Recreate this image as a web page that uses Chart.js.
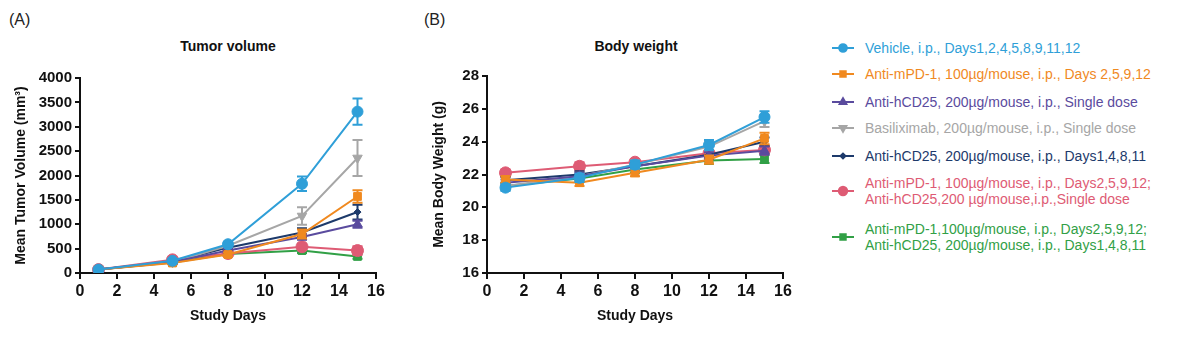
<!DOCTYPE html>
<html>
<head>
<meta charset="utf-8">
<script src="https://cdn.jsdelivr.net/npm/chart.js@4"></script>
<style>
    body { margin: 0; background: #fff; font-family: "Liberation Sans", Arial, sans-serif; }
    #wrap { position: relative; width: 1190px; height: 339px; overflow: hidden; }
    .panel { position: absolute; top: 0; width: 395px; height: 339px; }
    .tag { position: absolute; font-size: 16px; color: #222; }
    .ttl { position: absolute; font-size: 14px; font-weight: bold; color: #111; transform: translateX(-50%); white-space: nowrap; }
    .leg { position: absolute; left: 830px; font-size: 14px; line-height: 16px; white-space: nowrap; }
    .leg canvas { position: absolute; left: 0; }
    .leg span { position: absolute; left: 35px; }
</style>
</head>
<body>
<div id="wrap">
    <div class="tag" style="left:9px; top:11px;">(A)</div>
    <div class="tag" style="left:424px; top:11px;">(B)</div>
    <div class="ttl" style="left:228px; top:38px;">Tumor volume</div>
    <div class="ttl" style="left:636px; top:38px;">Body weight</div>
    <div class="panel" style="left:0;"><canvas id="tv-chart" width="395" height="339"></canvas></div>
    <div class="panel" style="left:400px;"><canvas id="bw-chart" width="395" height="339"></canvas></div>
    <div id="legend"></div>
</div>
<script>
// Study days (x values)
const days = [1, 5, 8, 12, 15];

// Series names
const seriesNames = [
    'Vehicle, i.p., Days1,2,4,5,8,9,11,12',
    'Anti-mPD-1, 100µg/mouse, i.p., Days 2,5,9,12',
    'Anti-hCD25, 200µg/mouse, i.p., Single dose',
    'Basiliximab, 200µg/mouse, i.p., Single dose',
    'Anti-hCD25, 200µg/mouse, i.p., Days1,4,8,11',
    'Anti-mPD-1, 100µg/mouse, i.p., Days2,5,9,12;\nAnti-hCD25,200 µg/mouse,i.p.,Single dose',
    'Anti-mPD-1,100µg/mouse, i.p., Days2,5,9,12;\nAnti-hCD25, 200µg/mouse, i.p., Days1,4,8,11'
];

// Tumor volume (mm3), mean and SEM
const tvVehicle = [70, 250, 590, 1830, 3310];
const tvMpd1 = [70, 205, 380, 800, 1570];
const tvHcd25Single = [70, 225, 460, 740, 1000];
const tvBasiliximab = [70, 220, 560, 1170, 2360];
const tvHcd25Multi = [70, 230, 520, 830, 1250];
const tvComboSingle = [70, 270, 400, 540, 460];
const tvComboMulti = [70, 215, 390, 460, 340];

const tvErrVehicle = [15, 30, 50, 150, 270];
const tvErrMpd1 = [10, 25, 40, 90, 130];
const tvErrHcd25Single = [10, 25, 40, 60, 70];
const tvErrBasiliximab = [10, 25, 50, 180, 370];
const tvErrHcd25Multi = [10, 25, 40, 90, 150];
const tvErrComboSingle = [10, 30, 40, 60, 90];
const tvErrComboMulti = [10, 25, 40, 50, 50];

// Body weight (g), mean and SEM
const bwVehicle = [21.2, 21.8, 22.6, 23.8, 25.5];
const bwMpd1 = [21.7, 21.5, 22.1, 22.9, 24.2];
const bwHcd25Single = [21.5, 21.9, 22.5, 23.15, 23.45];
const bwBasiliximab = [21.3, 21.9, 22.6, 23.7, 25.25];
const bwHcd25Multi = [21.65, 22.0, 22.5, 23.2, 24.0];
const bwComboSingle = [22.1, 22.5, 22.75, 23.3, 23.5];
const bwComboMulti = [21.3, 21.75, 22.3, 22.85, 22.95];

const bwErrVehicle = [0.2, 0.25, 0.25, 0.3, 0.35];
const bwErrMpd1 = [0.2, 0.2, 0.2, 0.25, 0.35];
const bwErrHcd25Single = [0.2, 0.2, 0.2, 0.2, 0.25];
const bwErrBasiliximab = [0.2, 0.2, 0.25, 0.3, 0.35];
const bwErrHcd25Multi = [0.2, 0.2, 0.2, 0.2, 0.25];
const bwErrComboSingle = [0.2, 0.25, 0.2, 0.2, 0.25];
const bwErrComboMulti = [0.2, 0.2, 0.2, 0.2, 0.25];

// Tick labels
const xTicks = [0, 2, 4, 6, 8, 10, 12, 14, 16];
const tvTicks = [0, 500, 1000, 1500, 2000, 2500, 3000, 3500, 4000];
const bwTicks = [16, 18, 20, 22, 24, 26, 28];

// Styles per series
const colors = ['#2f9fd8', '#f0891f', '#5a4b9e', '#a6a6a6', '#1d3a6b', '#de5b74', '#31a046'];
const markers = [
    { pointStyle: 'circle', radius: 5.5, rotation: 0 },
    { pointStyle: 'rect', radius: 5.5, rotation: 0 },
    { pointStyle: 'triangle', radius: 5.5, rotation: 0 },
    { pointStyle: 'triangle', radius: 5.5, rotation: 180 },
    { pointStyle: 'rectRot', radius: 3.5, rotation: 0 },
    { pointStyle: 'circle', radius: 6, rotation: 0 },
    { pointStyle: 'rect', radius: 5.5, rotation: 0 }
];

const tvSeries = [tvVehicle, tvMpd1, tvHcd25Single, tvBasiliximab, tvHcd25Multi, tvComboSingle, tvComboMulti];
const tvErrors = [tvErrVehicle, tvErrMpd1, tvErrHcd25Single, tvErrBasiliximab, tvErrHcd25Multi, tvErrComboSingle, tvErrComboMulti];
const bwSeries = [bwVehicle, bwMpd1, bwHcd25Single, bwBasiliximab, bwHcd25Multi, bwComboSingle, bwComboMulti];
const bwErrors = [bwErrVehicle, bwErrMpd1, bwErrHcd25Single, bwErrBasiliximab, bwErrHcd25Multi, bwErrComboSingle, bwErrComboMulti];

const FONT = '"Liberation Sans", Arial, sans-serif';

// Draw SEM error bars with caps, using the chart scales
const errorBarPlugin = {
    id: 'errorBars',
    afterDatasetDraw(chart, args) {
        const ds = chart.data.datasets[args.index];
        if (!ds.errors) return;
        const { ctx, scales } = chart;
        ctx.save();
        ctx.strokeStyle = ds.borderColor;
        ctx.lineWidth = 2;
        ds.data.forEach((p, i) => {
            const e = ds.errors[i];
            const x = scales.x.getPixelForValue(p.x);
            const y1 = scales.y.getPixelForValue(p.y + e);
            const y2 = scales.y.getPixelForValue(p.y - e);
            ctx.beginPath();
            ctx.moveTo(x, y1); ctx.lineTo(x, y2);
            ctx.moveTo(x - 5, y1); ctx.lineTo(x + 5, y1);
            ctx.moveTo(x - 5, y2); ctx.lineTo(x + 5, y2);
            ctx.stroke();
        });
        ctx.restore();
    }
};

function buildDatasets(series, errors) {
    return series.map((vals, i) => ({
        label: seriesNames[i],
        data: vals.map((v, j) => ({ x: days[j], y: v })),
        errors: errors[i],
        borderColor: colors[i],
        backgroundColor: colors[i],
        borderWidth: 2,
        pointStyle: markers[i].pointStyle,
        pointRadius: markers[i].radius,
        pointRotation: markers[i].rotation,
        pointBorderWidth: 1,
        tension: 0
    }));
}

function makeChart(id, series, errors, yTicks, yTitle, yWidth, padRight, padTop, yTitlePad) {
    const ctx = document.getElementById(id).getContext('2d');
    return new Chart(ctx, {
        type: 'line',
        data: { datasets: buildDatasets(series, errors) },
        options: {
            responsive: false,
            animation: false,
            layout: { padding: { left: 0, right: padRight, top: padTop, bottom: 0 } },
            plugins: { legend: { display: false }, tooltip: { enabled: false } },
            scales: {
                x: {
                    type: 'linear',
                    min: xTicks[0],
                    max: xTicks[xTicks.length - 1],
                    afterBuildTicks: (s) => { s.ticks = xTicks.map(v => ({ value: v })); },
                    afterFit: (s) => { s.height = 66; },
                    border: { color: '#111', width: 2 },
                    grid: { drawOnChartArea: false, color: '#111', lineWidth: 2, tickLength: 6 },
                    ticks: { color: '#111', padding: 3, callback: (v) => String(v), font: { family: FONT, size: 16, weight: 'bold' }, maxRotation: 0 },
                    title: { display: true, text: 'Study Days', color: '#111', padding: { top: 4, bottom: 14 }, font: { family: FONT, size: 14, weight: 'bold' } }
                },
                y: {
                    type: 'linear',
                    min: yTicks[0],
                    max: yTicks[yTicks.length - 1],
                    afterBuildTicks: (s) => { s.ticks = yTicks.map(v => ({ value: v })); },
                    afterFit: (s) => { s.width = yWidth; },
                    border: { color: '#111', width: 2 },
                    grid: { drawOnChartArea: false, color: '#111', lineWidth: 2, tickLength: 5 },
                    ticks: { color: '#111', padding: 3, callback: (v) => String(v), font: { family: FONT, size: 15, weight: 'bold' } },
                    title: { display: true, text: yTitle, color: '#111', padding: { top: yTitlePad, bottom: 0 }, font: { family: FONT, size: 14, weight: 'bold' } }
                }
            }
        },
        plugins: [errorBarPlugin]
    });
}

makeChart('tv-chart', tvSeries, tvErrors, tvTicks, 'Mean Tumor Volume (mm³)', 80, 19, 78, 13);
makeChart('bw-chart', bwSeries, bwErrors, bwTicks, 'Mean Body Weight (g)', 87, 12, 76, 31);

// Legend with real text, markers drawn by Chart.js helpers
const legendRows = [48, 74, 102, 128, 156, 191, 237];
const legend = document.getElementById('legend');
seriesNames.forEach((name, i) => {
    const lines = name.split('\n');
    const row = document.createElement('div');
    row.className = 'leg';
    row.style.top = (legendRows[i] - 8 * lines.length) + 'px';
    row.style.height = (16 * lines.length) + 'px';
    row.style.color = colors[i];
    const c = document.createElement('canvas');
    c.width = 26; c.height = 14;
    c.style.top = (8 * lines.length - 7) + 'px';
    const span = document.createElement('span');
    span.innerHTML = lines.join('<br>');
    span.style.top = '0px';
    row.appendChild(c);
    row.appendChild(span);
    legend.appendChild(row);
    const g = c.getContext('2d');
    g.strokeStyle = colors[i];
    g.fillStyle = colors[i];
    g.lineWidth = 2;
    g.beginPath(); g.moveTo(2, 7); g.lineTo(24, 7); g.stroke();
    Chart.helpers.drawPoint(g, {
        pointStyle: markers[i].pointStyle,
        radius: markers[i].radius * 0.7,
        rotation: markers[i].rotation,
        borderWidth: 1
    }, 13, 7);
});
</script>
</body>
</html>
